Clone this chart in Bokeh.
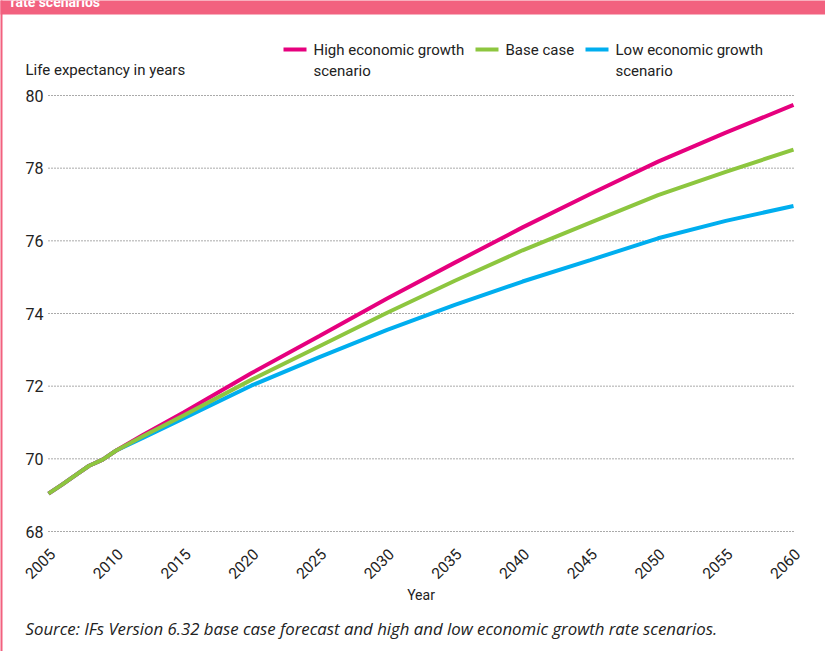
import math
from bokeh.plotting import figure
from bokeh.models import Label, BoxAnnotation, Range1d
from bokeh.core.properties import value
from bokeh.embed import file_html
from bokeh.resources import INLINE

years = [2005, 2006, 2007, 2008, 2009, 2010, 2012, 2015, 2020, 2025, 2030, 2035, 2040, 2045, 2050, 2055, 2060]
high = [69.04, 69.29, 69.55, 69.81, 69.98, 70.23, 70.66, 71.28, 72.36, 73.38, 74.41, 75.40, 76.37, 77.29, 78.18, 78.98, 79.74]
base = [69.04, 69.29, 69.55, 69.81, 69.98, 70.23, 70.63, 71.20, 72.18, 73.10, 74.02, 74.90, 75.74, 76.50, 77.26, 77.90, 78.51]
low = [69.04, 69.29, 69.55, 69.81, 69.98, 70.23, 70.58, 71.12, 72.02, 72.80, 73.55, 74.24, 74.88, 75.47, 76.07, 76.55, 76.96]

series_names = ["High economic growth\nscenario", "Base case", "Low economic growth\nscenario"]
x_ticks = list(range(2005, 2061, 5))
y_ticks = list(range(68, 81, 2))

PINK = "#E6007E"
GREEN = "#8DC63F"
BLUE = "#00AEEF"
HEADER = "#F2617F"
FONT = "Roboto"
TXT = "#222222"

W, H = 825, 651
# pixel placement of the data area inside the canvas
FL, FR, FT, FB = 48, 793, 95, 531
X0, X1, Y0, Y1 = 2005, 2060, 68, 80
SX = (X1 - X0) / (FR - FL)
SY = (Y1 - Y0) / (FB - FT)

p = figure(width=W, height=H, output_backend="svg", toolbar_location=None,
           x_axis_location=None, y_axis_location=None,
           x_range=Range1d(X0 - FL * SX, X1 + (W - FR) * SX),
           y_range=Range1d(Y0 - (H - FB) * SY, Y1 + FT * SY),
           min_border=0)
p.outline_line_color = None
p.background_fill_color = "white"
p.border_fill_color = "white"
p.grid.visible = False


def fx(cx):
    return X0 + (cx - FL) * SX


def fy(cy):
    return Y0 + (FB - cy) * SY


# dotted horizontal grid at the y ticks
p.segment(x0=[X0] * len(y_ticks), x1=[X1] * len(y_ticks), y0=y_ticks, y1=y_ticks,
          line_color="#555555", line_dash="1 2", line_width=1)

# y tick labels
p.text(x=[X0] * len(y_ticks), y=y_ticks, text=[str(t) for t in y_ticks],
       x_offset=-5, text_align="right", text_baseline="middle",
       text_font=value(FONT), text_font_size="16px", text_color=TXT)

# x tick labels, rotated
p.text(x=x_ticks, y=[Y0] * len(x_ticks), text=[str(t) for t in x_ticks],
       angle=math.pi / 4, x_offset=4, y_offset=20, text_align="right", text_baseline="middle",
       text_font=value(FONT), text_font_size="15.5px", text_color=TXT)

# series
p.line(years, low, line_color=BLUE, line_width=4)
p.line(years, high, line_color=PINK, line_width=4)
p.line(years, base, line_color=GREEN, line_width=4)


def add_label(text, cx, cy, size="15px", style="normal", color=TXT, baseline="middle", align="left", font=FONT):
    p.add_layout(Label(x=fx(cx), y=fy(cy), text=text,
                       text_font=font, text_font_size=size, text_font_style=style,
                       text_color=color, text_baseline=baseline, text_align=align))


def add_box(l, r, t, b, color):
    p.add_layout(BoxAnnotation(left=fx(l), right=fx(r), top=fy(t), bottom=fy(b),
                               fill_color=color, fill_alpha=1, line_color=None))


# frame decoration
add_box(-5, W + 5, -5, 14, HEADER)
add_box(-5, 2, -5, H + 5, HEADER)
add_label("rate scenarios", 10, 1, size="14px", style="bold", color="white", baseline="middle")

add_label("Life expectancy in years", 25, 69)
add_label("Year", 420.5, 594, size="14px", align="center")

# legend
legend_pos = [(283, PINK), (475, GREEN), (585, BLUE)]
for (lx, col), name in zip(legend_pos, series_names):
    add_box(lx, lx + 23, 47, 51, col)
    for i, line in enumerate(name.split("\n")):
        add_label(line, lx + 30, 49 + 21 * i)

add_label("Source: IFs Version 6.32 base case forecast and high and low economic growth rate scenarios.",
          25, 628, size="16.8px", style="italic", font="Open Sans")

open("out.html", "w").write(file_html(p, INLINE))
